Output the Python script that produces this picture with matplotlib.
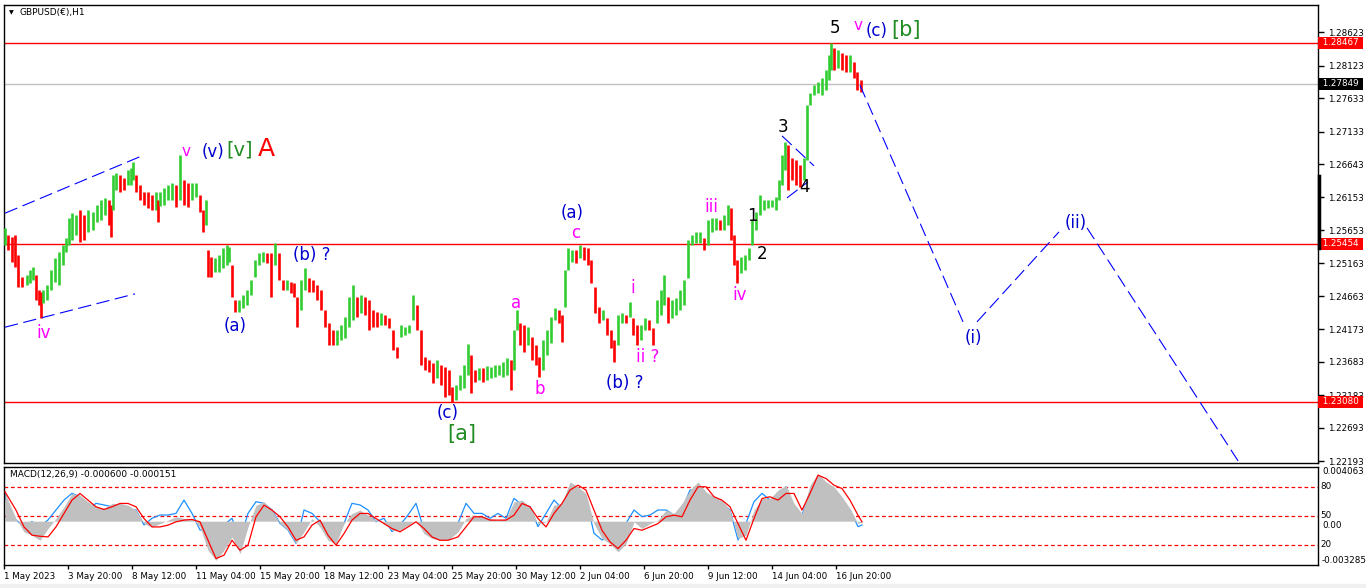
import matplotlib
matplotlib.use("Agg")
import matplotlib.pyplot as plt
import matplotlib.transforms as mtransforms
from matplotlib.lines import Line2D
import numpy as np

plt.rcParams['font.family'] = ['DejaVu Sans']

W, H = 1366, 588

# ---------------- data ----------------
# hourly-bar index of each sampled price bar
sample_bar = [
    1, 4, 8, 11, 14, 18, 23, 26, 29, 32,
    35, 37, 39, 43, 47, 51, 55, 59, 62, 65,
    68, 72, 76, 80, 84, 89, 93, 97, 101, 105,
    107, 109, 112, 116, 120, 124, 127, 129, 132, 136,
    140, 144, 148, 152, 154, 156, 160, 164, 168, 172,
    176, 180, 184, 188, 192, 196, 199, 202, 204, 207,
    211, 215, 219, 223, 225, 228, 231, 235, 239, 243,
    247, 251, 255, 259, 263, 267, 271, 275, 279, 283,
    287, 290, 293, 297, 301, 305, 309, 313, 317, 321,
    325, 329, 333, 337, 341, 345, 349, 353, 357, 361,
    365, 369, 373, 377, 381, 385, 389, 393, 397, 401,
    405, 409, 413, 417, 421, 425, 429, 433, 437, 441,
    445, 448, 452, 456, 460, 464, 467, 471, 475, 479,
    483, 487, 491, 495, 499, 503, 507, 510, 513, 516,
    520, 524, 528, 532, 535, 539, 543, 547, 551, 555,
    558, 561, 564, 568, 572, 576, 580, 584, 587, 591,
    595, 599, 603, 607, 610, 614, 618, 622, 626, 629,
    633, 637, 641, 645, 649, 653, 657, 660, 664, 668,
    672, 676, 680, 684, 688, 692, 696, 700, 704, 708,
    712, 716, 720, 724, 727, 730, 733, 737, 741, 745,
    748, 752, 756, 760, 764, 768, 772, 775, 778, 781,
    784, 788, 792, 796, 800, 803, 806, 810, 814, 818,
    822, 825, 827, 830, 834, 838, 842, 846, 850, 853,
    857]

high = [
    1.2569, 1.2558, 1.2555, 1.2558, 1.2528, 1.2495, 1.2498, 1.2506, 1.2510, 1.2498,
    1.2476, 1.2473, 1.2476, 1.2483, 1.2506, 1.2524, 1.2533, 1.2543, 1.2554, 1.2584,
    1.2591, 1.2588, 1.2596, 1.2588, 1.2596, 1.2593, 1.2603, 1.2611, 1.2614, 1.2611,
    1.2603, 1.2648, 1.2651, 1.2648, 1.2644, 1.2656, 1.2659, 1.2668, 1.2648, 1.2633,
    1.2623, 1.2623, 1.2618, 1.2623, 1.2611, 1.2623, 1.2629, 1.2633, 1.2636, 1.2633,
    1.2678, 1.2641, 1.2636, 1.2636, 1.2636, 1.2618, 1.2596, 1.2611, 1.2536, 1.2525,
    1.2524, 1.2528, 1.2539, 1.2543, 1.2540, 1.2513, 1.2461, 1.2461, 1.2468, 1.2476,
    1.2491, 1.2521, 1.2531, 1.2533, 1.2531, 1.2531, 1.2546, 1.2531, 1.2491, 1.2491,
    1.2488, 1.2486, 1.2465, 1.2491, 1.2509, 1.2494, 1.2491, 1.2483, 1.2476, 1.2446,
    1.2426, 1.2416, 1.2416, 1.2423, 1.2435, 1.2465, 1.2483, 1.2465, 1.2468, 1.2465,
    1.2461, 1.2446, 1.2443, 1.2441, 1.2438, 1.2434, 1.2416, 1.2390, 1.2423, 1.2420,
    1.2423, 1.2468, 1.2453, 1.2416, 1.2375, 1.2371, 1.2366, 1.2371, 1.2363, 1.2360,
    1.2356, 1.2330, 1.2333, 1.2348, 1.2363, 1.2395, 1.2378, 1.2356, 1.2359, 1.2359,
    1.2362, 1.2360, 1.2363, 1.2363, 1.2368, 1.2374, 1.2371, 1.2416, 1.2446, 1.2426,
    1.2423, 1.2420, 1.2405, 1.2393, 1.2375, 1.2401, 1.2416, 1.2435, 1.2449, 1.2446,
    1.2438, 1.2506, 1.2539, 1.2536, 1.2536, 1.2543, 1.2540, 1.2539, 1.2521, 1.2480,
    1.2450, 1.2446, 1.2434, 1.2416, 1.2401, 1.2438, 1.2441, 1.2438, 1.2458, 1.2434,
    1.2423, 1.2423, 1.2434, 1.2431, 1.2419, 1.2461, 1.2476, 1.2498, 1.2465, 1.2461,
    1.2464, 1.2476, 1.2491, 1.2551, 1.2558, 1.2563, 1.2563, 1.2554, 1.2581, 1.2584,
    1.2584, 1.2581, 1.2588, 1.2603, 1.2599, 1.2558, 1.2521, 1.2525, 1.2528, 1.2539,
    1.2581, 1.2593, 1.2618, 1.2611, 1.2611, 1.2611, 1.2615, 1.2641, 1.2678, 1.2698,
    1.2693, 1.2674, 1.2671, 1.2663, 1.2674, 1.2753, 1.2771, 1.2783, 1.2788, 1.2794,
    1.2806, 1.2828, 1.2846, 1.2839, 1.2836, 1.2831, 1.2828, 1.2828, 1.2818, 1.2803,
    1.2791]

low = [
    1.2543, 1.2536, 1.2518, 1.2510, 1.2480, 1.2480, 1.2483, 1.2486, 1.2491, 1.2461,
    1.2453, 1.2434, 1.2456, 1.2461, 1.2476, 1.2488, 1.2483, 1.2513, 1.2533, 1.2543,
    1.2551, 1.2558, 1.2548, 1.2551, 1.2563, 1.2566, 1.2578, 1.2581, 1.2588, 1.2573,
    1.2555, 1.2596, 1.2626, 1.2623, 1.2626, 1.2633, 1.2633, 1.2641, 1.2623, 1.2611,
    1.2603, 1.2599, 1.2596, 1.2596, 1.2578, 1.2602, 1.2603, 1.2611, 1.2611, 1.2600,
    1.2611, 1.2603, 1.2600, 1.2611, 1.2615, 1.2593, 1.2563, 1.2573, 1.2495, 1.2495,
    1.2503, 1.2503, 1.2509, 1.2513, 1.2518, 1.2465, 1.2443, 1.2443, 1.2449, 1.2453,
    1.2468, 1.2495, 1.2513, 1.2518, 1.2516, 1.2465, 1.2513, 1.2491, 1.2476, 1.2476,
    1.2471, 1.2465, 1.2420, 1.2446, 1.2476, 1.2473, 1.2473, 1.2461, 1.2446, 1.2420,
    1.2393, 1.2393, 1.2393, 1.2401, 1.2404, 1.2420, 1.2431, 1.2435, 1.2441, 1.2438,
    1.2416, 1.2420, 1.2420, 1.2423, 1.2423, 1.2419, 1.2386, 1.2374, 1.2405, 1.2408,
    1.2411, 1.2431, 1.2416, 1.2363, 1.2356, 1.2353, 1.2336, 1.2344, 1.2333, 1.2315,
    1.2318, 1.2308, 1.2311, 1.2326, 1.2329, 1.2348, 1.2321, 1.2338, 1.2341, 1.2338,
    1.2341, 1.2344, 1.2345, 1.2348, 1.2345, 1.2348, 1.2326, 1.2356, 1.2416, 1.2393,
    1.2383, 1.2393, 1.2371, 1.2363, 1.2345, 1.2356, 1.2378, 1.2396, 1.2431, 1.2426,
    1.2398, 1.2450, 1.2506, 1.2518, 1.2516, 1.2524, 1.2521, 1.2513, 1.2486, 1.2441,
    1.2426, 1.2431, 1.2408, 1.2389, 1.2368, 1.2393, 1.2426, 1.2426, 1.2435, 1.2408,
    1.2393, 1.2401, 1.2416, 1.2416, 1.2393, 1.2426, 1.2438, 1.2453, 1.2426, 1.2434,
    1.2438, 1.2446, 1.2453, 1.2494, 1.2543, 1.2546, 1.2546, 1.2536, 1.2543, 1.2563,
    1.2566, 1.2566, 1.2566, 1.2573, 1.2551, 1.2513, 1.2486, 1.2501, 1.2506, 1.2521,
    1.2543, 1.2566, 1.2588, 1.2596, 1.2599, 1.2600, 1.2596, 1.2611, 1.2633, 1.2656,
    1.2626, 1.2641, 1.2633, 1.2630, 1.2641, 1.2671, 1.2753, 1.2768, 1.2771, 1.2768,
    1.2776, 1.2791, 1.2806, 1.2806, 1.2809, 1.2806, 1.2803, 1.2803, 1.2794, 1.2776,
    1.2773]

# indicator samples
macd_bar = [
    1, 4, 12, 20, 28, 36, 44, 52, 60, 68,
    76, 84, 92, 100, 108, 116, 124, 132, 140, 148,
    156, 164, 172, 180, 188, 196, 204, 212, 220, 228,
    236, 244, 252, 260, 268, 276, 284, 292, 300, 308,
    316, 324, 332, 340, 348, 356, 364, 372, 380, 388,
    396, 404, 412, 420, 428, 436, 444, 454, 462, 470,
    478, 486, 494, 502, 510, 518, 526, 534, 542, 550,
    558, 566, 574, 582, 590, 598, 606, 614, 622, 630,
    638, 646, 654, 662, 670, 678, 686, 694, 702, 710,
    718, 726, 734, 742, 750, 758, 766, 774, 782, 790,
    798, 806, 814, 822, 830, 838, 846, 854, 858]

# MACD main (histogram), units of 1e-4
macd_main = [
    22.0, 15.8, 2.0, -8.0, -10.5, -14.3, -5.5, 2.0, 10.8, 20.8,
    19.5, 14.5, 10.8, 9.5, 13.3, 13.3, 12.0, 8.3, -1.8, -4.3,
    -1.8, 0.8, 3.3, 2.0, 2.0, -4.3, -21.8, -29.3, -21.8, -11.8,
    -24.3, -4.3, 12.0, 14.5, 8.3, -1.8, -6.8, -16.8, -8.0, 2.0,
    -4.3, -14.3, -16.8, -1.8, 5.8, 8.3, 4.5, 0.8, -1.8, -6.8,
    -6.8, -3.0, 0.8, -9.3, -13.0, -14.3, -14.3, -8.0, 2.0, 4.5,
    3.3, 2.0, 0.8, 2.0, 14.5, 15.8, 10.8, -1.8, -0.5, 12.0,
    13.3, 29.5, 25.8, 20.8, -1.8, -13.0, -16.8, -23.0, -16.8, -0.5,
    -5.5, -1.8, 0.8, 8.3, 5.8, 13.3, 23.3, 29.5, 22.0, 18.3,
    15.8, 8.3, -13.0, -10.5, 8.3, 17.0, 17.0, 23.3, 27.0, 13.3,
    5.8, 27.0, 35.8, 29.5, 25.8, 18.3, 9.5, -1.8, -0.5]

# MACD signal line, units of 1e-4
macd_signal = [
    22.0, 18.3, 8.3, -4.3, -10.5, -11.3, -11.8, -4.3, 5.8, 15.8,
    20.8, 15.8, 10.8, 8.8, 10.8, 13.3, 13.3, 10.8, 2.0, -4.3,
    -4.3, -3.0, -0.5, 0.8, 1.3, -0.5, -14.3, -28.0, -25.5, -14.3,
    -21.8, -18.0, 3.3, 12.0, 8.3, 3.3, -4.3, -14.3, -11.8, -3.0,
    0.8, -10.5, -18.0, -9.3, 0.8, 5.8, 5.8, 2.0, -1.8, -5.5,
    -8.0, -4.3, -0.5, -5.5, -11.8, -14.3, -14.3, -11.8, -4.3, 3.3,
    3.3, 0.8, 0.8, 0.8, 4.5, 13.3, 10.8, 2.0, -4.3, 5.8,
    13.3, 23.3, 27.0, 23.3, 8.3, -6.8, -15.5, -20.5, -14.3, -5.5,
    -6.8, -4.3, -1.8, 3.3, 4.5, 3.3, 15.8, 25.8, 25.8, 18.3,
    15.8, 10.8, -1.8, -14.3, 2.0, 17.0, 18.3, 15.8, 20.8, 20.8,
    8.3, 20.8, 34.5, 32.0, 27.0, 24.5, 15.8, 4.5, -0.5]

# blue oscillator (0-100 scale with 80/50/20 levels)
osc_line = [
    73.4, 56.2, 45.9, 39.0, 44.1, 39.0, 45.9, 56.2, 66.5, 73.4,
    70.0, 56.2, 63.1, 61.4, 59.6, 61.4, 56.2, 56.2, 40.7, 47.6,
    51.0, 51.0, 52.7, 66.5, 52.7, 35.5, 35.5, 33.8, 40.7, 47.6,
    25.2, 52.7, 64.8, 63.1, 56.2, 42.4, 35.5, 21.7, 56.2, 52.7,
    44.1, 35.5, 30.3, 42.4, 63.1, 61.4, 56.2, 44.1, 47.6, 33.8,
    40.7, 51.0, 63.1, 35.5, 35.5, 39.0, 42.4, 42.4, 63.1, 52.7,
    52.7, 47.6, 52.7, 47.6, 68.3, 61.4, 59.6, 39.0, 52.7, 66.5,
    57.9, 80.3, 73.4, 68.3, 32.1, 25.2, 28.6, 33.8, 42.4, 56.2,
    49.3, 51.0, 56.2, 56.2, 51.0, 56.2, 76.9, 76.9, 68.3, 68.3,
    63.1, 56.2, 25.2, 42.4, 64.8, 73.4, 66.5, 70.0, 80.3, 57.9,
    51.0, 75.2, 78.6, 73.4, 70.0, 63.1, 56.2, 39.0, 40.7]

x_tick_bar = [0, 64, 128, 192, 256, 320, 384, 448, 512, 576, 640, 704, 768, 832]
x_tick_labels = ["1 May 2023", "3 May 20:00", "8 May 12:00", "11 May 04:00",
                 "15 May 20:00", "18 May 12:00", "23 May 04:00", "25 May 20:00",
                 "30 May 12:00", "2 Jun 04:00", "6 Jun 20:00", "9 Jun 12:00",
                 "14 Jun 04:00", "16 Jun 20:00"]
price_ticks = [1.28623, 1.28123, 1.27633, 1.27133, 1.26643, 1.26153, 1.25653,
               1.25163, 1.24663, 1.24173, 1.23683, 1.23183, 1.22693, 1.22193]
level_prices = [1.28467, 1.25454, 1.23080]
bid_price = 1.27849
osc_levels = [80, 50, 20]

# ---------------- figure ----------------
fig = plt.figure(figsize=(W / 100, H / 100), dpi=100)
fig.patch.set_facecolor('white')

def fx(px):
    return px / W

def fy(py):
    return 1 - py / H

ax = fig.add_axes([fx(4), fy(463), fx(1318) - fx(4), fy(5) - fy(463)])
axm = fig.add_axes([fx(4), fy(565), fx(1318) - fx(4), fy(466.5) - fy(565)])

XMIN, XMAX = 0, 1314
for a in (ax, axm):
    a.set_xlim(XMIN, XMAX)
    for s in a.spines.values():
        s.set_color('black')
        s.set_linewidth(1.0)
ax.set_ylim(1.22163, 1.29033)

# ---- price bars ----
sb = np.array(sample_bar)
hi = np.array(high)
lo = np.array(low)
mid = (hi + lo) / 2
up = np.concatenate([[True], mid[1:] >= mid[:-1]])
cols = np.where(up, '#32CD32', '#FF0000')
ax.vlines(sb, lo, hi, colors=cols, linewidth=1.9, zorder=3)

# horizontal levels
for p in level_prices:
    ax.axhline(p, color='#FF0000', lw=1.0, zorder=2)
ax.axhline(bid_price, color='#C0C0C0', lw=1.0, zorder=2)

# wave lines
blue = '#0000FF'
dash = dict(color=blue, lw=0.8, dashes=(12, 5), zorder=4)
ax.plot([1, 138], [1.2591, 1.2677], **dash)
ax.plot([1, 131], [1.2420, 1.2470], **dash)
ax.plot([778, 810], [1.2707, 1.2662], **dash)
ax.plot([783, 804], [1.2614, 1.2638], **dash)
ax.plot([856, 959], [1.2783, 1.2428], **dash)
ax.plot([973, 1055], [1.2428, 1.2563], **dash)
ax.plot([1083, 1236], [1.2569, 1.2215], **dash)

# wave labels
mag = '#FF00FF'
wblue = '#0000CD'
green = '#228B22'
labels = [
    ("iv", 40, 1.2411, mag, 12),
    ("v", 182, 1.2683, mag, 11),
    ("(v)", 209, 1.2683, wblue, 12),
    ("[v]", 236, 1.2686, green, 14),
    ("A", 262, 1.2687, '#FF0000', 18),
    ("(b) ?", 308, 1.2528, wblue, 12),
    ("(a)", 231, 1.2422, wblue, 12),
    ("(c)", 444, 1.2291, wblue, 12),
    ("[a]", 458, 1.2260, green, 15),
    ("a", 512, 1.2456, mag, 12),
    ("b", 536, 1.2327, mag, 12),
    ("(a)", 568, 1.2591, wblue, 12),
    ("c", 572, 1.2561, mag, 12),
    ("i", 629, 1.2479, mag, 12),
    ("ii ?", 644, 1.2375, mag, 12),
    ("(b) ?", 621, 1.2336, wblue, 12),
    ("iii", 707, 1.2600, mag, 12),
    ("iv", 736, 1.2468, mag, 12),
    ("1", 748, 1.2587, 'black', 12),
    ("2", 758, 1.2530, 'black', 12),
    ("3", 779, 1.2720, 'black', 12),
    ("4", 801, 1.2630, 'black', 12),
    ("5", 831, 1.2869, 'black', 12),
    ("v", 854, 1.2873, mag, 11),
    ("(c)", 873, 1.2864, wblue, 12),
    ("[b]", 902, 1.2866, green, 15),
    ("(i)", 969, 1.2404, wblue, 12),
    ("(ii)", 1072, 1.2576, wblue, 12),
]
for s, b, p, c, fs in labels:
    ax.text(b, p, s, color=c, fontsize=fs, ha='center', va='center', zorder=6)

# right price axis
ax.yaxis.tick_right()
ax.set_yticks(price_ticks)
ax.set_yticklabels([f"{v:.5f}" for v in price_ticks])
ax.tick_params(axis='y', which='both', direction='out', length=4, width=1,
               labelsize=6.3, pad=3, colors='black')
ax.set_xticks([])

trans = mtransforms.blended_transform_factory(ax.transAxes, ax.transData)
for p in level_prices:
    ax.text(1.0015, p, f" {p:.5f} ", transform=trans, fontsize=6.3, color='white',
            ha='left', va='center', clip_on=False, zorder=10,
            bbox=dict(boxstyle='square,pad=0.18', fc='#FF0000', ec='none'))
ax.text(1.0015, bid_price, f" {bid_price:.5f} ", transform=trans, fontsize=6.3,
        color='white', ha='left', va='center', clip_on=False, zorder=10,
        bbox=dict(boxstyle='square,pad=0.18', fc='black', ec='none'))

# header
fig.text(fx(9), fy(12.5), "\u25BC", fontsize=4.5, va='center', ha='left')
fig.text(fx(20), fy(12.5), "GBPUSD(\u20AC),H1", fontsize=6.5, va='center', ha='left')

# scroll marker on right border
fig.add_artist(Line2D([fx(1318.5), fx(1318.5)], [fy(176), fy(248)], color='black', lw=2.5))

# ---- indicator panel ----
mb = np.array(macd_bar)
mm = np.array(macd_main) * 1e-4
ms = np.array(macd_signal) * 1e-4
axm.set_ylim(-0.003285, 0.0041)
axm.fill_between(mb, 0, mm, color='#C0C0C0', lw=0, zorder=1)
axs = axm.twinx()
axs.set_ylim(-0.7, 101.2)
axs.set_xlim(XMIN, XMAX)
for lv in osc_levels:
    axs.axhline(lv, color='#FF0000', lw=0.9, dashes=(3, 2.2), zorder=1)
axs.plot(mb, np.array(osc_line), color='#1E90FF', lw=0.9, zorder=3)
axm.plot(mb, ms, color='#FF0000', lw=0.9, zorder=4)
axm.set_zorder(axs.get_zorder() + 1)
axm.patch.set_visible(False)
axs.set_yticks([])
axm.set_yticks([])
for s in axs.spines.values():
    s.set_visible(False)

axm.set_xticks(x_tick_bar)
axm.set_xticklabels(x_tick_labels)
axm.tick_params(axis='x', direction='out', length=3, width=1, labelsize=6.3, pad=2)
for lab in axm.get_xticklabels():
    lab.set_horizontalalignment('left')

fig.text(fx(10), fy(474), "MACD(12,26,9) -0.000600 -0.000151", fontsize=6.5,
         va='center', ha='left')

ptr = mtransforms.blended_transform_factory(axm.transAxes, axm.transData)
axm.text(1.003, 0.0041, "0.004063", transform=ptr, fontsize=6.3, va='top',
         ha='left', clip_on=False)
axm.text(1.003, -0.00002, "0.00", transform=ptr, fontsize=6.3, va='top',
         ha='left', clip_on=False)
axm.text(1.003, -0.003285, "-0.003285", transform=ptr, fontsize=6.3,
         va='bottom', ha='left', clip_on=False)
otr = mtransforms.blended_transform_factory(axs.transAxes, axs.transData)
for lv in osc_levels:
    axs.text(1.002, lv, str(lv), transform=otr, fontsize=6.3, va='center',
             ha='left', clip_on=False)

# bottom status strip
fig.add_artist(plt.Rectangle((0, 0), 1, fy(584), transform=fig.transFigure,
                             color='#F0F0F0', zorder=-1))

fig.savefig("out.png", dpi=100, facecolor='white')
